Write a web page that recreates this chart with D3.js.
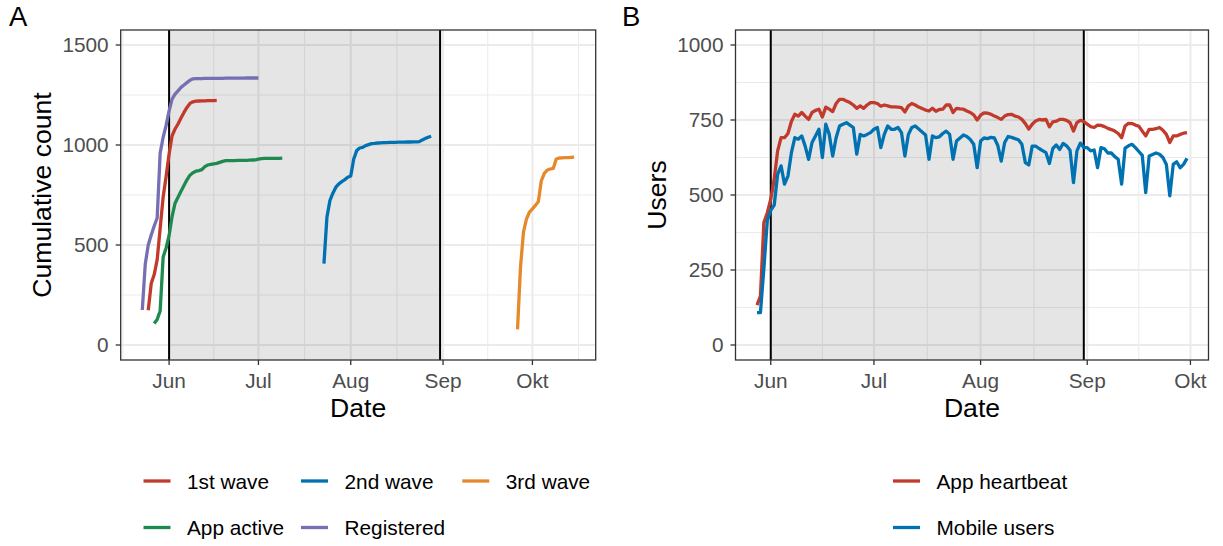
<!DOCTYPE html>
<html>
<head>
<meta charset="utf-8">
<script src="https://cdn.jsdelivr.net/npm/d3@7"></script>
<style>
  body { margin: 0; background: #fff; }
  text { font-family: "Liberation Sans", Arial, sans-serif; }
</style>
</head>
<body>
<div id="chart"></div>
<script>
// German short month names, used for the date tick labels
const shortMonths = ["Jan", "Feb", "Mär", "Apr", "Mai", "Jun", "Jul", "Aug", "Sep", "Okt", "Nov", "Dez"];

// period marked by the grey band
const periodStart = "2020-06-01";
const periodEnd = "2020-08-31";

// panel A: cumulative counts, one value per day from the start date
const firstWaveStart = "2020-05-25";
const firstWave = [174, 307, 352, 427, 583, 739, 842, 955, 1046, 1080, 1105, 1135, 1163, 1188, 1208, 1216,
  1219, 1220, 1221, 1221, 1222, 1222, 1222, 1223];

const secondWaveStart = "2020-07-23";
const secondWave = [407, 639, 722, 759, 789, 806, 817, 827, 839, 845, 930, 972, 985, 988, 997, 1002, 1007,
  1008, 1010, 1011, 1012, 1012, 1013, 1013, 1013, 1014, 1014, 1014, 1015, 1015, 1016, 1016, 1017, 1025,
  1032, 1039, 1044];

const thirdWaveStart = "2020-09-26";
const thirdWave = [78, 390, 565, 630, 664, 681, 698, 717, 822, 858, 875, 880, 883, 930, 935, 936, 937, 937,
  938, 939];

const appActiveStart = "2020-05-27";
const appActive = [108, 128, 170, 440, 485, 548, 642, 709, 739, 769, 797, 826, 849, 861, 869, 872, 877, 892,
  900, 903, 906, 908, 913, 918, 922, 922, 922, 922, 923, 923, 923, 923, 924, 925, 926, 929, 932, 933, 933,
  933, 933, 933, 933, 934];

const registeredStart = "2020-05-23";
const registered = [175, 405, 500, 550, 595, 635, 960, 1038, 1098, 1171, 1229, 1254, 1271, 1288, 1300, 1312,
  1324, 1331, 1332, 1332, 1332, 1333, 1333, 1333, 1333, 1333, 1333, 1333, 1334, 1334, 1334, 1334, 1334,
  1334, 1334, 1335, 1335, 1335, 1335, 1335];

// panel B: daily users
const usersStart = "2020-05-28";
const heartbeat = [133, 163, 408, 441,
  486, 552, 647, 691, 691, 705, 745, 769, 763, 775,
  763, 752, 775, 782, 786, 760, 793, 786, 778, 805,
  819, 819, 813, 808, 800, 789, 797, 789, 800, 808,
  808, 805, 796, 800, 797, 794, 794, 793, 791, 777,
  797, 805, 800, 793, 788, 783, 780, 789, 779, 785,
  786, 800, 800, 775, 789, 787, 786, 780, 775, 767,
  750, 766, 774, 773, 769, 763, 758, 752, 763, 768,
  769, 763, 760, 752, 738, 720, 736, 747, 752, 750,
  752, 727, 744, 746, 752, 752, 749, 741, 713, 741,
  749, 745, 736, 728, 725, 733, 732, 728, 722, 718,
  713, 705, 691, 730, 739, 738, 733, 729, 713, 697,
  719, 719, 721, 725, 716, 702, 675, 697, 697, 702, 706, 708];

const mobileUsers = [108, 108, 255, 415,
  449, 466, 569, 597, 536, 563, 641, 691, 686, 697,
  663, 619, 675, 697, 719, 625, 736, 702, 630, 691,
  730, 736, 741, 733, 725, 636, 702, 697, 702, 708,
  719, 725, 658, 702, 730, 719, 719, 725, 708, 630,
  702, 725, 730, 720, 710, 700, 619, 697, 691, 694,
  705, 713, 702, 619, 680, 690, 700, 695, 685, 669,
  591, 680, 690, 688, 692, 690, 665, 613, 675, 695,
  692, 688, 684, 669, 608, 600, 663, 663, 655, 648,
  641, 605, 655, 667, 652, 672, 664, 649, 541, 647,
  673, 658, 658, 647, 650, 591, 658, 654, 640, 640,
  628, 619, 536, 656, 664, 669, 658, 645, 632, 508,
  630, 635, 640, 636, 625, 602, 497, 602, 611, 591, 602, 622];

// axis breaks
const countTicks = [0, 500, 1000, 1500];
const userTicks = [0, 250, 500, 750, 1000];

const width = 1223,
    height = 546;

const svg = d3.select("#chart")
  .append("svg")
    .attr("width", width)
    .attr("height", height);

const parse = d3.utcParse("%Y-%m-%d");
const deLocale = d3.timeFormatLocale({
  dateTime: "%A, der %e. %B %Y, %X", date: "%d.%m.%Y", time: "%H:%M:%S",
  periods: ["AM", "PM"],
  days: ["Sonntag", "Montag", "Dienstag", "Mittwoch", "Donnerstag", "Freitag", "Samstag"],
  shortDays: ["So", "Mo", "Di", "Mi", "Do", "Fr", "Sa"],
  months: ["Januar", "Februar", "März", "April", "Mai", "Juni", "Juli", "August", "September", "Oktober", "November", "Dezember"],
  shortMonths: shortMonths
});
const monthFormat = deLocale.utcFormat("%b");

// daily series -> [{date, value}]
function daily(start, values) {
  const t0 = parse(start);
  return values.map((v, i) => ({date: d3.utcDay.offset(t0, i), value: v}));
}

const gridCol = "#ebebeb",
    axisCol = "#333333",
    tickTextCol = "#4d4d4d";
const smallFont = "20.8px",
    titleFont = "26.6px";

function drawPanel(p) {
  const g = svg.append("g");

  // x domain: data range expanded by 5% on each side (like ggplot)
  const allDates = p.series.flatMap(s => s.data.map(d => d.date));
  const [d0, d1] = d3.extent(allDates);
  const pad = (d1 - d0) * 0.05;
  const x = d3.scaleUtc()
    .domain([new Date(+d0 - pad), new Date(+d1 + pad)])
    .range([p.left, p.right]);
  const y = d3.scaleLinear()
    .domain(p.yDomain)
    .range([p.bottom, p.top]);

  const [x0, x1] = x.domain();
  const months = d3.utcMonth.range(d3.utcMonth.floor(x0), d3.utcMonth.offset(x1, 1));
  const xMajor = months.filter(m => m >= x0 && m <= x1);
  const xMinor = d3.pairs(months, (a, b) => new Date((+a + +b) / 2)).filter(m => m >= x0 && m <= x1);
  const yMinor = d3.pairs(p.yTicks, (a, b) => (a + b) / 2);

  // grid
  g.selectAll(".xminor").data(xMinor).join("line")
    .attr("x1", d => x(d)).attr("x2", d => x(d))
    .attr("y1", p.top).attr("y2", p.bottom)
    .attr("stroke", gridCol).attr("stroke-width", 1);
  g.selectAll(".yminor").data(yMinor).join("line")
    .attr("x1", p.left).attr("x2", p.right)
    .attr("y1", d => y(d)).attr("y2", d => y(d))
    .attr("stroke", gridCol).attr("stroke-width", 1);
  g.selectAll(".xmajor").data(xMajor).join("line")
    .attr("x1", d => x(d)).attr("x2", d => x(d))
    .attr("y1", p.top).attr("y2", p.bottom)
    .attr("stroke", gridCol).attr("stroke-width", 2);
  g.selectAll(".ymajor").data(p.yTicks).join("line")
    .attr("x1", p.left).attr("x2", p.right)
    .attr("y1", d => y(d)).attr("y2", d => y(d))
    .attr("stroke", gridCol).attr("stroke-width", 2);

  // grey band and its edges
  const bandStart = parse(periodStart), bandEnd = parse(periodEnd);
  g.append("rect")
    .attr("x", x(bandStart)).attr("y", p.top)
    .attr("width", x(bandEnd) - x(bandStart)).attr("height", p.bottom - p.top)
    .attr("fill", "#000").attr("fill-opacity", 0.1);
  g.selectAll(".vline").data([bandStart, bandEnd]).join("line")
    .attr("x1", d => x(d)).attr("x2", d => x(d))
    .attr("y1", p.top).attr("y2", p.bottom)
    .attr("stroke", "#000").attr("stroke-width", 2);

  // lines
  const line = d3.line().x(d => x(d.date)).y(d => y(d.value));
  g.selectAll(".series").data(p.series).join("path")
    .attr("d", d => line(d.data))
    .attr("fill", "none")
    .attr("stroke", d => d.color)
    .attr("stroke-width", 3.3)
    .attr("stroke-linejoin", "round");

  // panel border
  g.append("rect")
    .attr("x", p.left).attr("y", p.top)
    .attr("width", p.right - p.left).attr("height", p.bottom - p.top)
    .attr("fill", "none").attr("stroke", axisCol).attr("stroke-width", 1.3);

  // x axis
  g.selectAll(".xtick").data(xMajor).join("line")
    .attr("x1", d => x(d)).attr("x2", d => x(d))
    .attr("y1", p.bottom).attr("y2", p.bottom + 5)
    .attr("stroke", axisCol).attr("stroke-width", 1.3);
  g.selectAll(".xlab").data(xMajor).join("text")
    .attr("x", d => x(d)).attr("y", p.bottom + 28)
    .attr("text-anchor", "middle")
    .attr("font-size", smallFont).attr("fill", tickTextCol)
    .text(d => monthFormat(d));

  // y axis
  g.selectAll(".ytick").data(p.yTicks).join("line")
    .attr("x1", p.left - 5).attr("x2", p.left)
    .attr("y1", d => y(d)).attr("y2", d => y(d))
    .attr("stroke", axisCol).attr("stroke-width", 1.3);
  g.selectAll(".ylab").data(p.yTicks).join("text")
    .attr("x", p.left - 12).attr("y", d => y(d))
    .attr("dy", "0.36em")
    .attr("text-anchor", "end")
    .attr("font-size", smallFont).attr("fill", tickTextCol)
    .text(d => d);

  // titles
  g.append("text")
    .attr("x", (p.left + p.right) / 2).attr("y", p.bottom + 57)
    .attr("text-anchor", "middle").attr("font-size", titleFont)
    .text("Date");
  g.append("text")
    .attr("transform", `translate(${p.left - 69.5}, ${(p.top + p.bottom) / 2}) rotate(-90)`)
    .attr("text-anchor", "middle").attr("font-size", titleFont)
    .text(p.yTitle);
  g.append("text")
    .attr("x", p.letterX).attr("y", 26)
    .attr("font-size", "27.5px")
    .text(p.letter);

  // legend
  const items = g.selectAll(".legend").data(p.legend).join("g")
    .attr("transform", d => `translate(${d.x}, ${d.y})`);
  items.append("line")
    .attr("x1", 0).attr("x2", 27)
    .attr("stroke", d => d.series.color).attr("stroke-width", 3.3);
  items.append("text")
    .attr("x", 43.5).attr("dy", "0.36em")
    .attr("font-size", smallFont)
    .text(d => d.series.name);
}

// panel A
const wave1 = {name: "1st wave", color: "#c13a2b", data: daily(firstWaveStart, firstWave)};
const wave2 = {name: "2nd wave", color: "#0072b2", data: daily(secondWaveStart, secondWave)};
const wave3 = {name: "3rd wave", color: "#e6892b", data: daily(thirdWaveStart, thirdWave)};
const active = {name: "App active", color: "#1f8a50", data: daily(appActiveStart, appActive)};
const reg = {name: "Registered", color: "#7570b3", data: daily(registeredStart, registered)};

drawPanel({
  left: 120.7, right: 595.7, top: 30, bottom: 360,
  yDomain: [-75, 1575], yTicks: countTicks,
  yTitle: "Cumulative count", letter: "A", letterX: 9,
  series: [wave1, wave2, wave3, active, reg],
  legend: [
    {series: wave1, x: 143.5, y: 481}, {series: wave2, x: 301, y: 481}, {series: wave3, x: 462.3, y: 481},
    {series: active, x: 143.5, y: 527.5}, {series: reg, x: 301, y: 527.5}
  ]
});

// panel B
const hb = {name: "App heartbeat", color: "#c13a2b", data: daily(usersStart, heartbeat)};
const mob = {name: "Mobile users", color: "#0072b2", data: daily(usersStart, mobileUsers)};

drawPanel({
  left: 735.5, right: 1208.5, top: 30, bottom: 360,
  yDomain: [-50, 1050], yTicks: userTicks,
  yTitle: "Users", letter: "B", letterX: 622,
  series: [hb, mob],
  legend: [
    {series: hb, x: 893, y: 481}, {series: mob, x: 893, y: 527.5}
  ]
});
</script>
</body>
</html>
